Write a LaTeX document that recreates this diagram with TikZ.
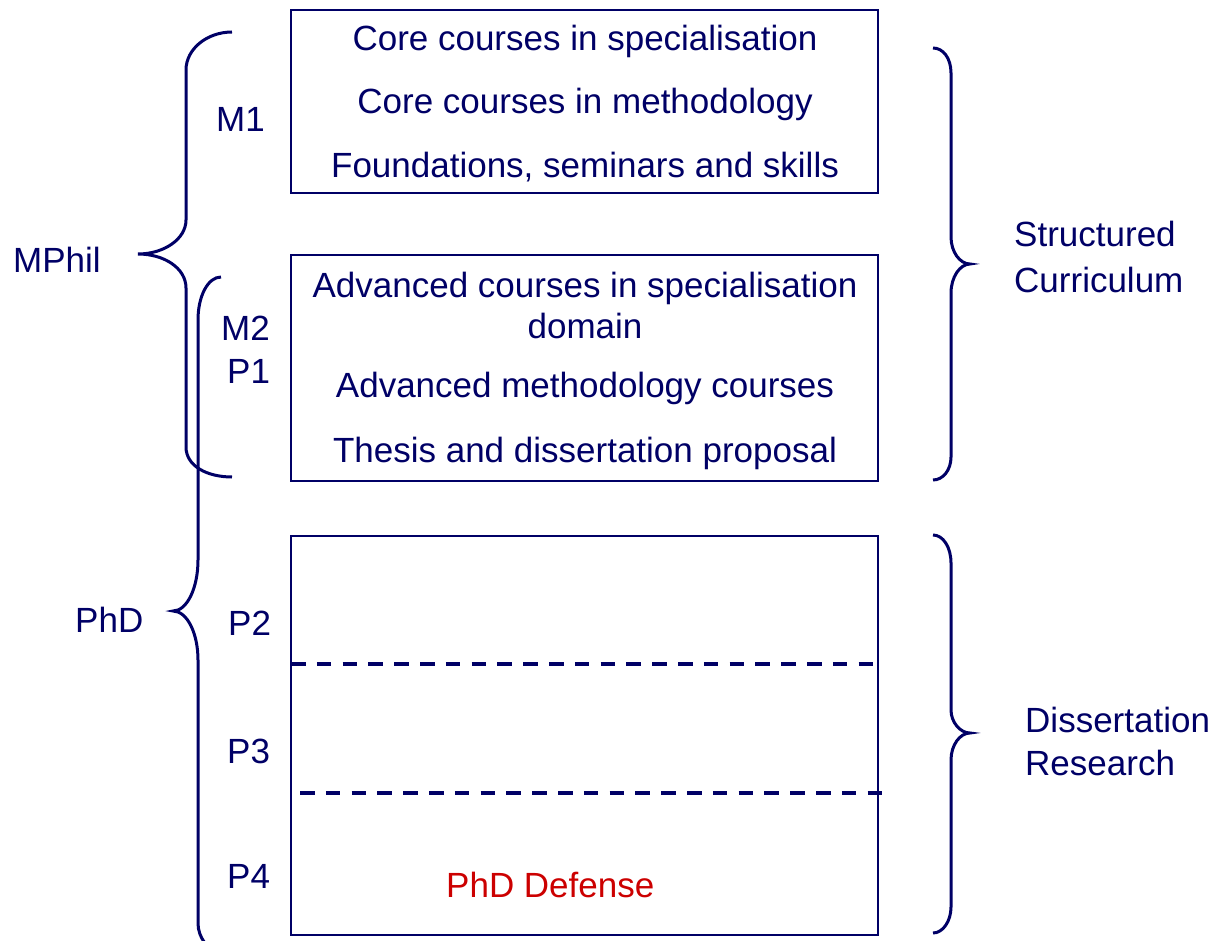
\documentclass[tikz,border=0pt]{standalone}
\usepackage{fontspec}
\setmainfont{Liberation Sans}
\usepackage{tikz}
\definecolor{navy}{RGB}{0,0,102}
\definecolor{defred}{RGB}{204,0,0}

\begin{document}
\begin{tikzpicture}[
		x=1pt, y=-1pt,
		every node/.style={inner sep=0pt,text=navy,font=\fontsize{35}{40}\selectfont},
		box/.style={draw=navy,line width=1.5pt},
		brace/.style={draw=navy,line width=3pt},
		divider/.style={draw=navy,line width=4pt,dash pattern=on 14.5pt off 11.3pt},
		row/.style={anchor=base},
		lbl/.style={anchor=base west}]
		\useasboundingbox (0,0) rectangle (1214,941);

		% the three blocks
		\node[box, minimum width=587pt, minimum height=183pt] (year1) at (584.5,101.5) {};
		\node[box, minimum width=587pt, minimum height=226pt] (year2) at (584.5,368) {};
		\node[box, minimum width=587pt, minimum height=399pt] (year3) at (584.5,735.5) {};

		\node[row] (c1) at (585,51)  {Core courses in specialisation};
		\node[row] (c2) at (585,114) {Core courses in methodology};
		\node[row] (c3) at (585,178) {Foundations, seminars and skills};
		\node[row] (a1) at (585,297) {Advanced courses in specialisation};
		\node[row] (a2) at (585,338) {domain};
		\node[row] (a3) at (585,397) {Advanced methodology courses};
		\node[row] (a4) at (585,462) {Thesis and dissertation proposal};
		\node[lbl, text=defred] (defense) at (446,897) {PhD Defense};

		\coordinate (d1w) at (291,664);
		\coordinate (d1e) at (878,664);
		\coordinate (d2w) at (300,793);
		\coordinate (d2e) at (890,793);
		\draw[divider] (d1w) -- (d1e);
		\draw[divider] (d2w) -- (d2e);

		% year labels
		\node[lbl] (m1) at (216,132) {M1};
		\node[lbl] (m2) at (221,340) {M2};
		\node[lbl] (p1) at (227,383) {P1};
		\node[lbl] (p2) at (228,635) {P2};
		\node[lbl] (p3) at (227,763) {P3};
		\node[lbl] (p4) at (227,888) {P4};

		\node[lbl] (mphil) at (13,272) {MPhil};
		\node[lbl] (phd)   at (75,632) {PhD};
		\node[lbl] (sc1) at (1014,247) {Structured};
		\node[lbl] (sc2) at (1014,292) {Curriculum};
		\node[lbl] (dr1) at (1025,732) {Dissertation};
		\node[lbl] (dr2) at (1025,775) {Research};

		% braces
		\draw[brace] (232,32) .. controls (207,32) and (186,49) .. (186,70) -- (186,220)
			.. controls (186,239) and (164,254) .. (138,254)
			.. controls (164,254) and (186,268) .. (186,288) -- (186,447)
			.. controls (186,466) and (207,477) .. (232,477);
		\draw[brace] (221,277) .. controls (208,277) and (198,296) .. (198,320) -- (198,560)
			.. controls (198,588) and (187,611) .. (173,611)
			.. controls (187,611) and (198,633) .. (198,660) -- (198,923)
			.. controls (198,938) and (208,950) .. (222,955);
		\draw[brace] (933,48) .. controls (943,48) and (951,58) .. (951,73) -- (951,237)
			.. controls (951,252) and (960,264) .. (970,264)
			.. controls (960,264) and (951,277) .. (951,293) -- (951,457)
			.. controls (951,470) and (943,480) .. (933,480);
		\draw[brace] (933,535) .. controls (943,535) and (951,547) .. (951,563) -- (951,710)
			.. controls (951,722) and (960,733) .. (970,733)
			.. controls (960,733) and (951,745) .. (951,760) -- (951,907)
			.. controls (951,921) and (943,933) .. (933,933);

\end{tikzpicture}
\end{document}
